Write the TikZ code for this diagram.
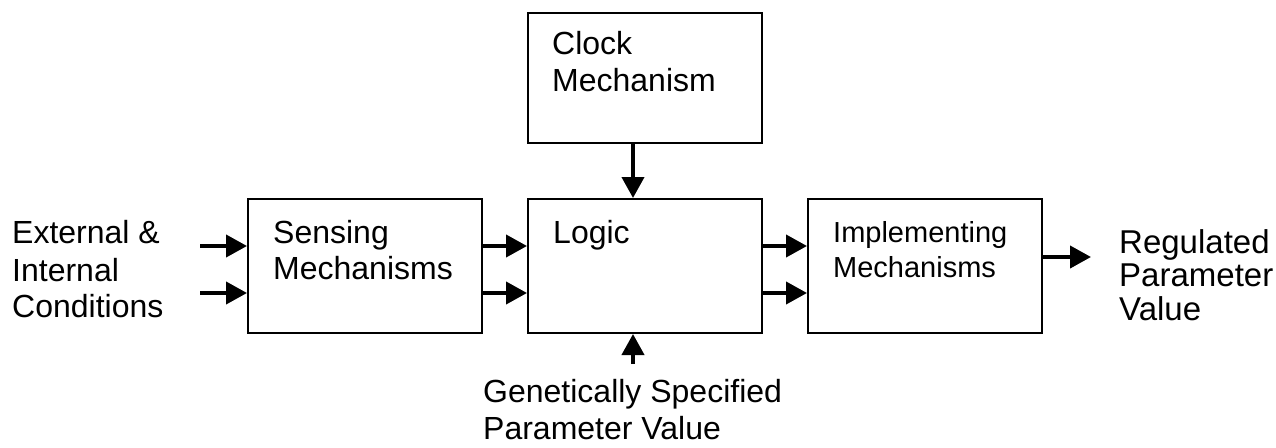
\documentclass[tikz,border=0pt]{standalone}
\usepackage{fontspec}
\setmainfont{Liberation Sans}
\usetikzlibrary{arrows.meta}
\begin{document}
\begin{tikzpicture}[x=1pt,y=-1pt,
  box/.style={draw,line width=2pt,rectangle,minimum width=234pt,minimum height=134pt,inner sep=0pt},
  arr/.style={line width=4pt,-{Triangle[length=21pt,width=22pt]}},
  txt/.style={anchor=base west,inner sep=0pt,font=\fontsize{32}{37}\selectfont},
  rtxt/.style={anchor=base west,inner sep=0pt,font=\fontsize{33}{37}\selectfont},
  stxt/.style={anchor=base west,inner sep=0pt,font=\fontsize{29}{35}\selectfont}]
\useasboundingbox (0,0) rectangle (1276,447);
\node[box] (sens) at (365,266) {};
\node[box] (logic) at (645,266) {};
\node[box] (impl) at (925,266) {};
\node[box,minimum height=130pt] (clock) at (644.5,78) {};
% texts
\node[txt] (t1) at (552,54) {Clock};
\node[txt] (t2) at (552,91) {Mechanism};
\node[txt] (t3) at (273,243) {Sensing};
\node[txt] (t4) at (273,279) {Mechanisms};
\node[txt] (t5) at (553,243) {Logic};
\node[stxt] (t6) at (833,242) {Implementing};
\node[stxt] (t7) at (833,277) {Mechanisms};
\node[txt] (l1) at (12,243) {External \&};
\node[txt] (l2) at (12,281) {Internal};
\node[txt] (l3) at (12,317) {Conditions};
\node[rtxt] (r1) at (1119,253) {Regulated};
\node[rtxt] (r2) at (1119,286) {Parameter};
\node[rtxt] (r3) at (1119,320) {Value};
\node[txt] (b1) at (483,402) {Genetically Specified};
\node[txt] (b2) at (483,439) {Parameter Value};
% connectors
\coordinate (in1) at (200,246);
\coordinate (in2) at (200,293);
\coordinate (gin) at (633,364);
\coordinate (out) at (1091,257);
\draw[arr] (in1) -- (in1 -| sens.west);
\draw[arr] (in2) -- (in2 -| sens.west);
\draw[arr] (in1 -| sens.east) -- (in1 -| logic.west);
\draw[arr] (in2 -| sens.east) -- (in2 -| logic.west);
\draw[arr] (in1 -| logic.east) -- (in1 -| impl.west);
\draw[arr] (in2 -| logic.east) -- (in2 -| impl.west);
\draw[arr] (out -| impl.east) -- (out);
\draw[arr] (gin |- clock.south) -- (gin |- logic.north);
\draw[arr] (gin) -- (gin |- logic.south);
\end{tikzpicture}
\end{document}
